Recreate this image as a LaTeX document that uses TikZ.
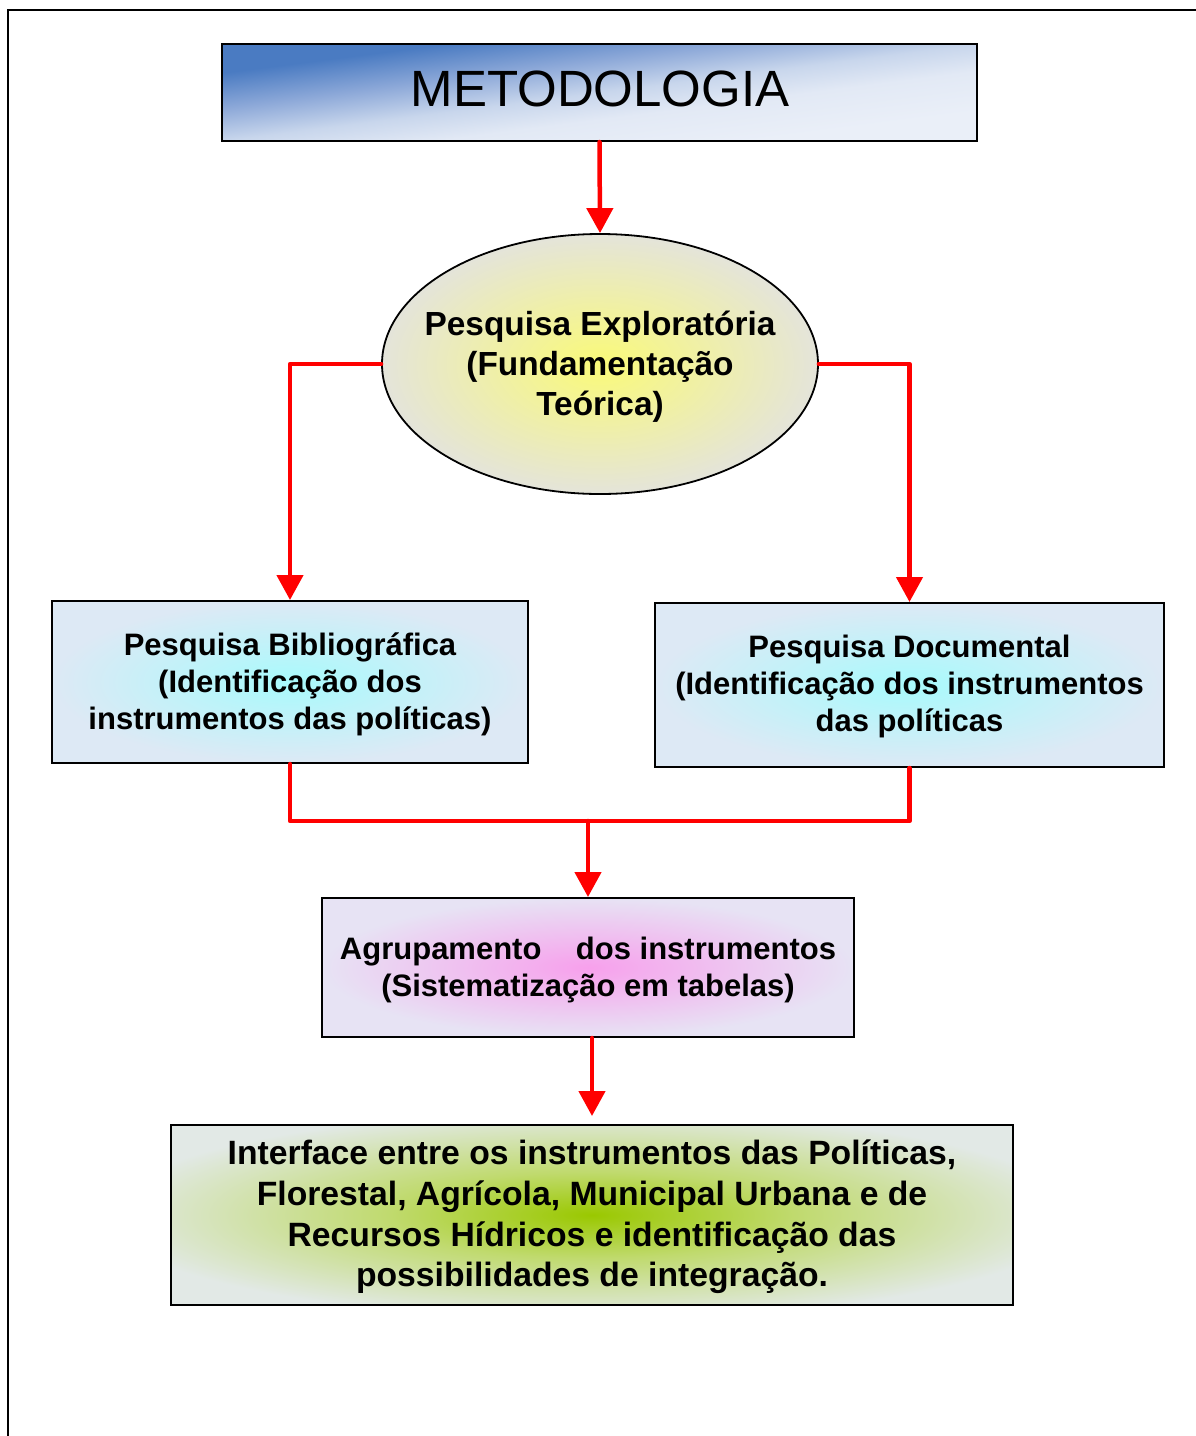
\documentclass[tikz,border=0pt]{standalone}
\usepackage{fontspec}
\setmainfont{Liberation Sans}
\usetikzlibrary{shapes.geometric,arrows.meta}
\definecolor{metL}{HTML}{EAEFF8}
\definecolor{metL2}{HTML}{E2E9F5}
\definecolor{metM1}{HTML}{C8D6EC}
\definecolor{metM2}{HTML}{8CA8D8}
\definecolor{metD}{HTML}{4A7BC2}
\definecolor{arrred}{HTML}{FF0000}
\definecolor{cyanIn}{HTML}{A8FAFC}
\definecolor{cyanOut}{HTML}{DDE9F5}
\definecolor{pinkIn}{HTML}{F7A0EC}
\definecolor{pinkOut}{HTML}{E7E3F4}
\definecolor{greenIn}{HTML}{9AC800}
\definecolor{greenMid}{HTML}{C0DA6E}
\definecolor{greenOut}{HTML}{E2E9E6}
\definecolor{yelIn}{HTML}{FAFA78}
\definecolor{yelOut}{HTML}{E4E4DA}
\pgfdeclareverticalshading{metshade}{100bp}{color(0bp)=(metL); color(25bp)=(metL); color(40bp)=(metL2); color(50bp)=(metM1); color(62bp)=(metM2); color(75bp)=(metD); color(100bp)=(metD)}
\pgfdeclareradialshading{greenshade}{\pgfpoint{0bp}{0bp}}{color(0bp)=(greenIn); color(12bp)=(greenMid); color(29bp)=(greenOut); color(50bp)=(greenOut)}
\tikzset{
  boxbase/.style={draw=black, line width=2pt, inner sep=0pt, align=center, text=black},
  redline/.style={draw=arrred, line width=4.5pt, line cap=round, line join=round},
  redarrow/.style={redline, -{Triangle[width=26pt,length=25pt]}},
  framestyle/.style={draw=black, line width=2.5pt},
  boldtext/.style={font=\fontsize{31}{37}\selectfont\bfseries},
}
\begin{document}
\begin{tikzpicture}[x=1pt,y=-1pt]
\useasboundingbox (0,0) rectangle (1196,1436);
% outer frame
\coordinate (fbl) at (8,1440);
\coordinate (ftl) at (8,10);
\coordinate (ftr) at (1200,10);
\draw[framestyle] (fbl) -- (ftl) -- (ftr);

% METODOLOGIA background (diagonal gradient, stretched)
\begin{scope}[transform canvas={shift={(599.5,92.5)}, xscale=7.7835}]
  \shade[shading=metshade, shading angle=45] (-48.5,-48.5) rectangle (48.5,48.5);
\end{scope}
\node[boxbase, minimum width=755pt, minimum height=97pt] (met) at (599.5,92.5) {};
\node[inner sep=0pt, font=\fontsize{51}{60}\selectfont] (mettext) at (600,89) {METODOLOGIA};

% ellipse
\node[draw=black, line width=1.8pt, ellipse, inner sep=0pt, minimum width=436pt, minimum height=260pt, inner color=yelIn, outer color=yelOut] (pe) at (600,364) {};
\node[inner sep=0pt, align=center, font=\fontsize{33.4}{40}\selectfont\bfseries] (petext) at (600,367) {Pesquisa Exploratória\\(Fundamentação\\Teórica)};

% bibliografica
\node[boxbase, minimum width=476pt, minimum height=162pt, inner color=cyanIn, outer color=cyanOut] (bib) at (290,682) {};
\node[inner sep=0pt, align=center, boldtext] (bibtext) at (290,684) {Pesquisa Bibliográfica\\(Identificação dos\\instrumentos das políticas)};

% documental
\node[boxbase, minimum width=509pt, minimum height=164pt, inner color=cyanIn, outer color=cyanOut] (doc) at (909.5,685) {};
\node[inner sep=0pt, align=center, boldtext] (doctext) at (909.5,686) {Pesquisa Documental\\(Identificação dos instrumentos\\das políticas};

% agrupamento
\node[boxbase, minimum width=532pt, minimum height=139pt, inner color=pinkIn, outer color=pinkOut] (agr) at (588,967.5) {};
\node[inner sep=0pt, align=center, boldtext] (agrtext) at (588,969.5) {Agrupamento\ \ \ \ dos instrumentos\\(Sistematização em tabelas)};

% interface
\node[boxbase, minimum width=842pt, minimum height=180pt, shading=greenshade] (int) at (592,1215) {};
\node[inner sep=0pt, align=center, font=\fontsize{33.7}{40.7}\selectfont\bfseries] (inttext) at (592,1217) {Interface entre os instrumentos das Políticas,\\Florestal, Agrícola, Municipal Urbana e de\\Recursos Hídricos e identificação das\\possibilidades de integração.};

% connectors
\coordinate (mid) at (588,821);
\draw[redarrow] (met.south) -- (pe.north);
\draw[redarrow] (pe.west) -| (bib.north);
\draw[redarrow] (pe.east) -| (doc.north);
\draw[redline] (bib.south) |- (mid) -| (doc.south);
\draw[redarrow] (mid) -- (agr.north);
\draw[redarrow, shorten >=8pt] (agr.south -| int.north) -- (int.north);
\end{tikzpicture}
\end{document}
